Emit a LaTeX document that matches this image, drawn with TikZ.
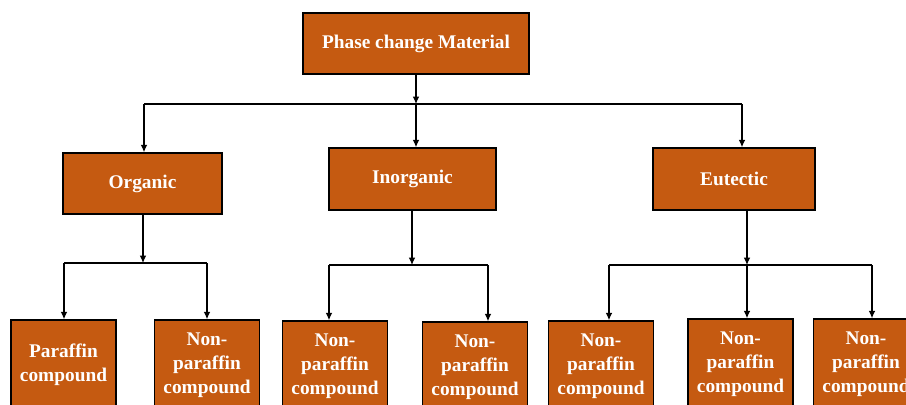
\documentclass[tikz,border=0pt]{standalone}
\usepackage{fontspec}
\setmainfont{Liberation Serif}
\usepackage{xcolor}
\usetikzlibrary{arrows.meta}
\definecolor{pcmorange}{HTML}{C55A11}

\begin{document}
\begin{tikzpicture}[x=0.75pt, y=-0.75pt,
        box/.style={draw=black, line width=1.1pt, fill=pcmorange, text=white,
            font=\fontsize{14.5}{18}\selectfont\bfseries, align=center, inner sep=1pt},
        link/.style={line width=0.9pt},
        arr/.style={link, -{Latex[length=5.5pt, width=5pt]}}]
        \clip (0,0) rectangle (906,404);

        % top and second level
        \node (pcm)   at (416,   43.5) [box, minimum width=169.5pt, minimum height=45.75pt] {Phase change Material};
        \node (org)   at (142.5, 183.5) [box, minimum width=119.25pt, minimum height=45.75pt] {Organic};
        \node (inorg) at (412.5, 179)   [box, minimum width=125.25pt, minimum height=46.5pt] {Inorganic};
        \node (eut)   at (734,   179)   [box, minimum width=121.5pt, minimum height=46.5pt] {Eutectic};

        % bottom level
        \node (par) at (63.5,  365) [box, minimum width=78.75pt, minimum height=67.5pt] {Paraffin\\compound};
        \node (np1) at (207,   365) [box, minimum width=78.75pt, minimum height=67.5pt] {Non-\\paraffin\\compound};
        \node (np2) at (335,   366) [box, minimum width=78.75pt, minimum height=67.5pt] {Non-\\paraffin\\compound};
        \node (np3) at (475,   367) [box, minimum width=78.75pt, minimum height=67.5pt] {Non-\\paraffin\\compound};
        \node (np4) at (601,   366) [box, minimum width=78.75pt, minimum height=67.5pt] {Non-\\paraffin\\compound};
        \node (np5) at (740.5, 364) [box, minimum width=78.75pt, minimum height=67.5pt] {Non-\\paraffin\\compound};
        \node (np6) at (866,   364) [box, minimum width=78.75pt, minimum height=67.5pt] {Non-\\paraffin\\compound};

        % bus lines
        \coordinate (b0)  at (416, 104);
        \coordinate (b0l) at (144, 104);
        \coordinate (b0r) at (742, 104);
        \coordinate (b1)  at (143, 263);
        \coordinate (b1l) at (64,  263);
        \coordinate (b1r) at (207, 263);
        \coordinate (b2)  at (412, 265);
        \coordinate (b2l) at (329, 265);
        \coordinate (b2r) at (488, 265);
        \coordinate (b3)  at (747, 265);
        \coordinate (b3l) at (609, 265);
        \coordinate (b3r) at (872, 265);

        \draw[arr] (pcm) -- (b0);
        \draw[link] (b0l) -- (b0r);
        \draw[arr] (b0l) -- (b0l |- org.north);
        \draw[arr] (b0) -- (b0 |- inorg.north);
        \draw[arr] (b0r) -- (b0r |- eut.north);

        \draw[arr] (b1 |- org.south) -- (b1);
        \draw[link] (b1l) -- (b1r);
        \draw[arr] (b1l) -- (b1l |- par.north);
        \draw[arr] (b1r) -- (b1r |- np1.north);

        \draw[arr] (b2 |- inorg.south) -- (b2);
        \draw[link] (b2l) -- (b2r);
        \draw[arr] (b2l) -- (b2l |- np2.north);
        \draw[arr] (b2r) -- (b2r |- np3.north);

        \draw[arr] (b3 |- eut.south) -- (b3);
        \draw[link] (b3l) -- (b3r);
        \draw[arr] (b3l) -- (b3l |- np4.north);
        \draw[arr] (b3) -- (b3 |- np5.north);
        \draw[arr] (b3r) -- (b3r |- np6.north);
    \end{tikzpicture}
\end{document}
